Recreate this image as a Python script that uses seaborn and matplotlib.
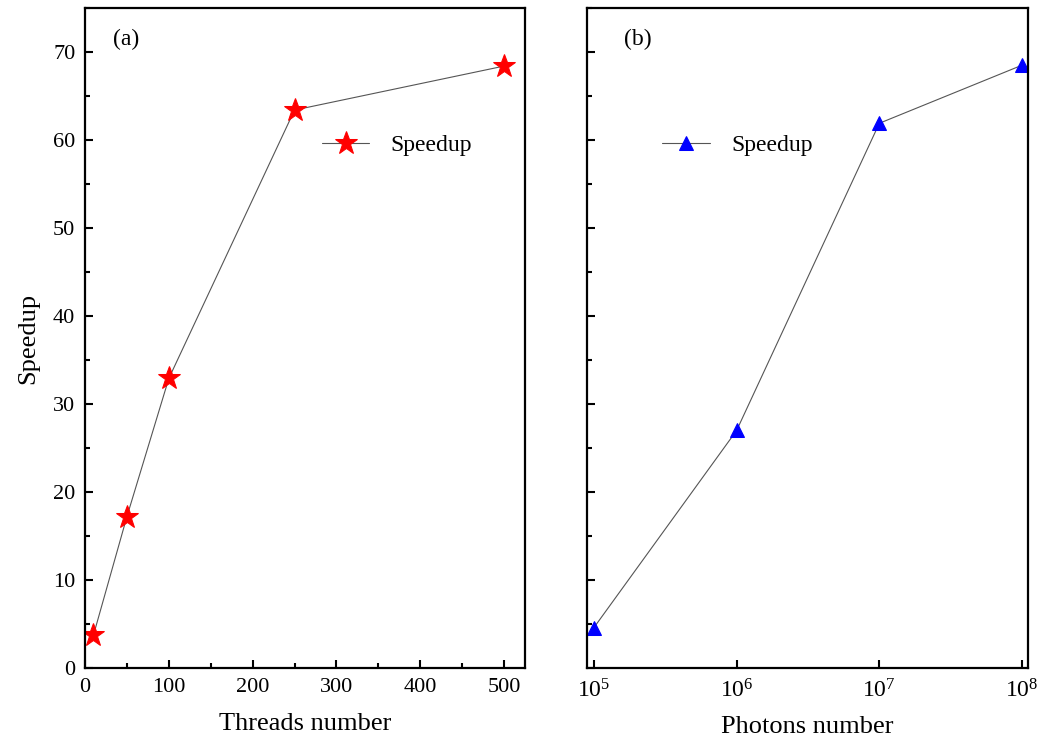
import numpy as np
import pandas as pd
import matplotlib
matplotlib.use("Agg")
import matplotlib.pyplot as plt
import seaborn as sns
from matplotlib.ticker import MultipleLocator, LogLocator, NullLocator

threads = [10, 50, 100, 250, 500]
speedup_threads = [3.7, 17.2, 32.9, 63.4, 68.4]
photons = [1e5, 1e6, 1e7, 1e8]
speedup_photons = [4.6, 27.0, 61.9, 68.5]

sns.set_style("ticks")
plt.rcParams['font.family'] = ['Liberation Serif', 'DejaVu Serif']
plt.rcParams['mathtext.fontset'] = 'stix'
plt.rcParams['text.color'] = 'black'
plt.rcParams['axes.labelcolor'] = 'black'
plt.rcParams['xtick.color'] = 'black'
plt.rcParams['ytick.color'] = 'black'

fig = plt.figure(figsize=(10.49, 7.40), dpi=100)
ax1 = fig.add_axes([85/1049, 1 - 668/740, 440/1049, 660/740])
ax2 = fig.add_axes([587/1049, 1 - 668/740, 441/1049, 660/740])

df1 = pd.DataFrame({"Threads": threads, "Speedup": speedup_threads})
df2 = pd.DataFrame({"Photons": photons, "Speedup": speedup_photons})

sns.lineplot(data=df1, x="Threads", y="Speedup", ax=ax1, color="#555555", lw=0.8,
             marker="*", markersize=17, markerfacecolor="red", markeredgecolor="red",
             label="Speedup")
sns.lineplot(data=df2, x="Photons", y="Speedup", ax=ax2, color="#555555", lw=0.8,
             marker="^", markersize=10, markerfacecolor="blue", markeredgecolor="blue",
             label="Speedup")

ax1.set_xlim(0, 525)
ax1.set_ylim(0, 75)
ax2.set_xscale("log")
ax2.set_xlim(10**4.951, 10**8.042)
ax2.set_ylim(0, 75)

ax1.xaxis.set_major_locator(MultipleLocator(100))
ax1.xaxis.set_minor_locator(MultipleLocator(50))
for ax in (ax1, ax2):
    ax.yaxis.set_major_locator(MultipleLocator(10))
    ax.yaxis.set_minor_locator(MultipleLocator(5))
    for s in ax.spines.values():
        s.set_linewidth(1.6)
        s.set_color("black")
    ax.tick_params(which="major", direction="in", length=6, width=1.5, labelsize=16, pad=7)
    ax.tick_params(which="minor", direction="in", length=3.5, width=1.5)
ax2.xaxis.set_major_locator(LogLocator(base=10, numticks=10))
ax2.xaxis.set_minor_locator(NullLocator())
ax2.tick_params(axis="x", labelsize=17, pad=8)
ax2.set_yticklabels([])

ax1.set_xlabel("Threads number", fontsize=19, labelpad=12)
ax1.set_ylabel("Speedup", fontsize=19, labelpad=10)
ax2.set_xlabel("Photons number", fontsize=19, labelpad=10)
ax2.set_ylabel("")

ax1.text(0.064, 0.969, "(a)", transform=ax1.transAxes, fontsize=17, va="top")
ax2.text(0.083, 0.969, "(b)", transform=ax2.transAxes, fontsize=17, va="top")

ax1.legend(loc="center left", bbox_to_anchor=(0.539, 0.792), frameon=False, fontsize=17,
           handlelength=2.0, handletextpad=0.9, borderaxespad=0, borderpad=0)
ax2.legend(loc="center left", bbox_to_anchor=(0.171, 0.792), frameon=False, fontsize=17,
           handlelength=2.0, handletextpad=0.9, borderaxespad=0, borderpad=0)

fig.savefig("out.png", dpi=100)
